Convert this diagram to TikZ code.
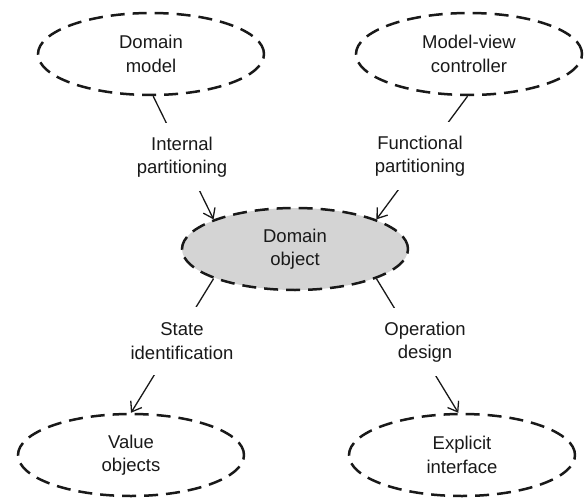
\documentclass[tikz,border=0pt]{standalone}
\usepackage{fontspec}
\setmainfont{Liberation Sans}
\usetikzlibrary{shapes.geometric,arrows.meta}
\definecolor{dofill}{RGB}{212,212,212}
\definecolor{ink}{RGB}{25,25,25}
\begin{document}
\begin{tikzpicture}[x=1pt,y=-1pt,
  font=\fontsize{18.5}{23.5}\selectfont,
  ent/.style={ellipse, draw=ink, text=ink, line width=2.5pt, dash pattern=on 14pt off 8pt,
    minimum width=226pt, minimum height=82pt, inner sep=0pt, align=center},
  lab/.style={fill=white, text=ink, align=center, minimum height=68pt, inner xsep=3pt, inner ysep=0pt},
  conn/.style={draw=ink, line width=1.3pt, -{Straight Barb[length=9pt,width=13pt,line width=1.3pt]}}
]
\useasboundingbox (0,0) rectangle (585,500);

\node[ent] (dm)  at (151,54)  {Domain\\model};
\node[ent] (mvc) at (469,54)  {Model-view\\controller};
\node[ent, fill=dofill] (do) at (295,249) {Domain\\object};
\node[ent] (vo)  at (131,455) {Value\\objects};
\node[ent] (ei)  at (462,455) {Explicit\\interface};

\draw[conn] (dm.-87) -- (do.160);
\draw[conn] (mvc.-92) -- (do.20);
\draw[conn] (do.-160) -- (vo.90);
\draw[conn] (do.-20) -- (ei.95);

\node[lab] (ip) at (182,157) {Internal\\partitioning};
\node[lab] (fp) at (420,156) {Functional\\partitioning};
\node[lab] (si) at (182,341) {State\\identification};
\node[lab] (od) at (425,342) {Operation\\design};
\end{tikzpicture}
\end{document}
